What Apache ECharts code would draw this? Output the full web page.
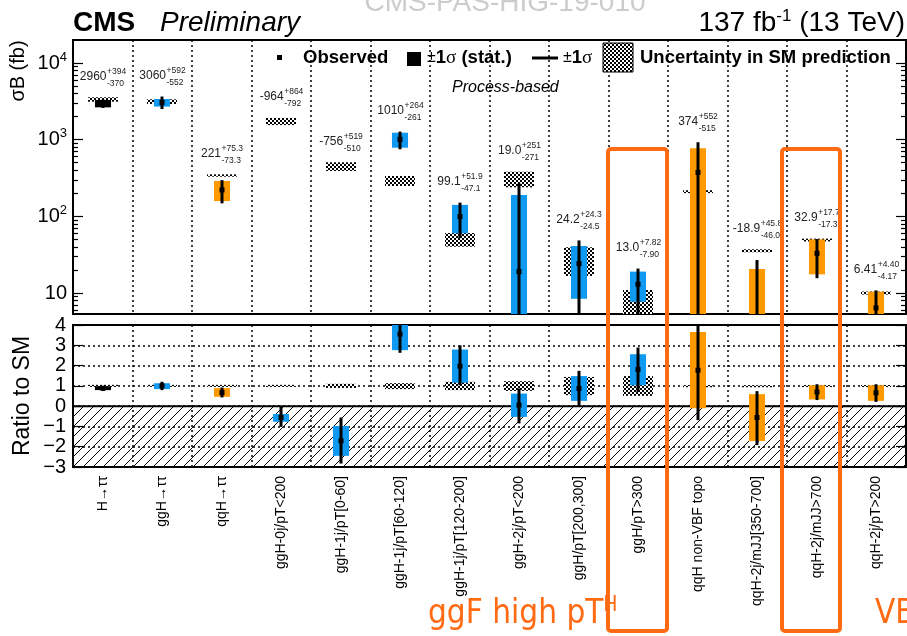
<!DOCTYPE html>
<html>
<head>
<meta charset="utf-8">
<script src="https://cdn.jsdelivr.net/npm/echarts@6/dist/echarts.min.js"></script>
<style>
  html, body { margin: 0; padding: 0; background: #fff; }
  #chart { width: 907px; height: 636px; }
</style>
</head>
<body>
<div id="chart"></div>
<script>
// categories (bins of the process-based fit)
const categories = ['H→ττ', 'ggH→ττ', 'qqH→ττ', 'ggH-0j/pT<200', 'ggH-1j/pT[0-60]', 'ggH-1j/pT[60-120]',
  'ggH-1j/pT[120-200]', 'ggH-2j/pT<200', 'ggH/pT[200,300]', 'ggH/pT>300', 'qqH non-VBF topo',
  'qqH-2j/mJJ[350-700]', 'qqH-2j/mJJ>700', 'qqH-2j/pT>200'];
const procType = ['all', 'ggH', 'qqH', 'ggH', 'ggH', 'ggH', 'ggH', 'ggH', 'ggH', 'ggH', 'qqH', 'qqH', 'qqH', 'qqH'];

// observed sigma*B (fb) with total +/- 1 sigma, as printed
const obsText = ['2960', '3060', '221', '-964', '-756', '1010', '99.1', '19.0', '24.2', '13.0', '374', '-18.9', '32.9', '6.41'];
const upText = ['394', '592', '75.3', '864', '519', '264', '51.9', '251', '24.3', '7.82', '552', '45.8', '17.7', '4.40'];
const downText = ['370', '552', '73.3', '792', '510', '261', '47.1', '271', '24.5', '7.90', '515', '46.0', '17.3', '4.17'];

// stat-only band (fb)
const statLow = [2640, 2700, 158, -1320, -1090, 785, 60, -160, 8.4, 7.7, -23, -61, 17.5, 2.6];
const statHigh = [3290, 3390, 289, -670, -435, 1233, 141, 190, 41, 19, 771, 20.5, 50, 10.4];

// SM prediction band (fb)
const smLow = [3130, 2920, 329, 1550, 390, 249, 40.2, 239, 16.7, 3.7, 201, 34, 47, 9.55];
const smHigh = [3570, 3360, 353, 1920, 507, 336, 60.6, 382, 39.5, 10.9, 219, 37.2, 51.2, 10.45];

// ratio to SM panel
const ratioObs = [0.88, 1.0, 0.67, -0.56, -1.71, 3.55, 1.97, 0.05, 0.87, 1.81, 1.77, -0.56, 0.70, 0.66];
const ratioStatLow = [0.79, 0.84, 0.46, -0.77, -2.45, 2.76, 1.15, -0.53, 0.26, 1.03, -0.11, -1.72, 0.33, 0.26];
const ratioStatHigh = [0.98, 1.13, 0.89, -0.39, -0.98, 4.3, 2.79, 0.62, 1.48, 2.56, 3.66, 0.59, 1.03, 1.03];
const ratioTotLow = [0.75, 0.79, 0.43, -1.02, -2.83, 2.63, 1.03, -0.85, 0.0, 0.70, -0.69, -1.92, 0.30, 0.21];
const ratioTotHigh = [1.0, 1.2, 0.92, -0.04, -0.56, 4.3, 3.0, 0.87, 1.74, 2.89, 4.3, 0.74, 1.08, 1.08];
const ratioSmLow = [0.95, 0.95, 0.95, 0.95, 0.9, 0.84, 0.79, 0.75, 0.54, 0.51, 0.97, 0.97, 0.96, 0.96];
const ratioSmHigh = [1.05, 1.05, 1.05, 1.05, 1.1, 1.13, 1.2, 1.23, 1.44, 1.48, 1.03, 1.03, 1.04, 1.04];

// axis ticks
const majorDecades = [1, 2, 3, 4];
const minorMultipliers = [2, 3, 4, 5, 6, 7, 8, 9];

const obs = obsText.map(Number);
const errUp = upText.map(Number);
const errDown = downText.map(Number);

const FONT = '"Liberation Sans", Arial, Helvetica, sans-serif';
const NARROW = '"Liberation Sans Narrow", "DejaVu Sans Condensed", sans-serif';
const procColor = { all: '#000000', ggH: '#0f99f0', qqH: '#ff9900' };
const annotColor = '#ff6a13';
const LOG_MIN = 0.726, LOG_MAX = 4.3;

function lg(v) { return Math.log10(Math.max(v, 1)); }

const minorLog = [];
[0, 1, 2, 3, 4].forEach(d => minorMultipliers.forEach(m => {
  const v = d + Math.log10(m);
  if (v > LOG_MIN && v < LOG_MAX) minorLog.push(v);
}));

// fill patterns
function checkerPattern() {
  const c = document.createElement('canvas');
  c.width = 4; c.height = 4;
  const ctx = c.getContext('2d');
  ctx.fillStyle = '#fff'; ctx.fillRect(0, 0, 4, 4);
  ctx.fillStyle = '#000';
  ctx.fillRect(0, 0, 2, 2); ctx.fillRect(2, 2, 2, 2);
  return { image: c, repeat: 'repeat' };
}
function diagPattern() {
  const c = document.createElement('canvas');
  c.width = 10; c.height = 10;
  const ctx = c.getContext('2d');
  ctx.strokeStyle = '#000'; ctx.lineWidth = 1;
  ctx.beginPath();
  ctx.moveTo(0, 10); ctx.lineTo(10, 0);
  ctx.moveTo(-5, 5); ctx.lineTo(5, -5);
  ctx.moveTo(5, 15); ctx.lineTo(15, 5);
  ctx.stroke();
  return { image: c, repeat: 'repeat' };
}
const smFill = checkerPattern();
const negFill = diagPattern();

const mctx = document.createElement('canvas').getContext('2d');
function textW(t, font) { mctx.font = font; return mctx.measureText(t).width; }
const MAIN_FONT = '12px ' + FONT;
const SUP_FONT = '8.5px ' + FONT;

const chart = echarts.init(document.getElementById('chart'));

function renderTop(params, api) {
  const i = api.value(0);
  const band = api.size([1, 0])[0];
  const cx = Math.round(api.coord([i, 0])[0]);
  const yv = v => api.coord([i, lg(v)])[1];
  const color = procColor[procType[i]];
  const s1 = yv(smHigh[i]), s0 = yv(smLow[i]);
  const b1 = yv(statHigh[i]), b0 = yv(statLow[i]);
  const children = [
    { type: 'rect', shape: { x: Math.round(cx - band * 0.25), y: s1, width: Math.round(band * 0.5), height: Math.max(s0 - s1, 2) }, style: { fill: smFill } },
    { type: 'rect', shape: { x: cx - band * 0.135, y: b1, width: band * 0.27, height: b0 - b1 }, style: { fill: color } },
    { type: 'line', shape: { x1: cx, y1: yv(obs[i] + errUp[i]), x2: cx, y2: yv(obs[i] - errDown[i]) }, style: { stroke: '#000', lineWidth: 3 } }
  ];
  if (obs[i] > 0) {
    const py = yv(obs[i]);
    children.push({ type: 'rect', shape: { x: cx - 2.5, y: py - 2.5, width: 5, height: 5 }, style: { fill: '#000' } });
  }
  return { type: 'group', children };
}

function renderLabel(params, api) {
  const i = api.value(0);
  const top = Math.max(obs[i] + errUp[i], smHigh[i]);
  const pt = api.coord([i, lg(top)]);
  const y = pt[1] - 21;
  const up = '+' + upText[i], dn = '-' + downText[i];
  const wMain = textW(obsText[i], MAIN_FONT);
  const wSup = Math.max(textW(up, SUP_FONT), textW(dn, SUP_FONT));
  const x0 = pt[0] - (wMain + wSup) / 2;
  const base = { fill: '#222', verticalAlign: 'middle', textVerticalAlign: 'middle', align: 'left', textAlign: 'left' };
  return {
    type: 'group', children: [
      { type: 'text', style: Object.assign({ text: obsText[i], x: x0, y: y, font: MAIN_FONT }, base) },
      { type: 'text', style: Object.assign({ text: up, x: x0 + wMain + 0.5, y: y - 5, font: SUP_FONT }, base) },
      { type: 'text', style: Object.assign({ text: dn, x: x0 + wMain + 0.5, y: y + 7, font: SUP_FONT }, base) }
    ]
  };
}

function renderRatio(params, api) {
  const i = api.value(0);
  const band = api.size([1, 0])[0];
  const cx = Math.round(api.coord([i, 0])[0]);
  const yv = v => api.coord([i, v])[1];
  const color = procColor[procType[i]];
  const s1 = yv(ratioSmHigh[i]), s0 = yv(ratioSmLow[i]);
  const b1 = yv(ratioStatHigh[i]), b0 = yv(ratioStatLow[i]);
  const py = yv(ratioObs[i]);
  return {
    type: 'group', children: [
      { type: 'rect', shape: { x: Math.round(cx - band * 0.25), y: s1, width: Math.round(band * 0.5), height: Math.max(s0 - s1, 2) }, style: { fill: smFill } },
      { type: 'rect', shape: { x: cx - band * 0.135, y: b1, width: band * 0.27, height: b0 - b1 }, style: { fill: color } },
      { type: 'line', shape: { x1: cx, y1: yv(ratioTotHigh[i]), x2: cx, y2: yv(ratioTotLow[i]) }, style: { stroke: '#000', lineWidth: 3 } },
      { type: 'rect', shape: { x: cx - 2.5, y: py - 2.5, width: 5, height: 5 }, style: { fill: '#000' } }
    ]
  };
}

function renderNegative(params, api) {
  const cs = params.coordSys;
  const y0 = api.coord([0, 0])[1];
  return {
    type: 'group', children: [
      { type: 'rect', shape: { x: cs.x, y: y0, width: cs.width, height: cs.y + cs.height - y0 }, style: { fill: negFill } },
      { type: 'line', shape: { x1: cs.x, y1: y0, x2: cs.x + cs.width, y2: y0 }, style: { stroke: '#000', lineWidth: 2 } }
    ]
  };
}

const dotted = { color: '#000', width: 1.5, type: [2, 3] };
const supRich = {
  b: { fontSize: 20, fontFamily: FONT, color: '#000' },
  s: { fontSize: 13, fontFamily: FONT, color: '#000', padding: [0, 0, 12, 0] }
};

function logAxis(position, ticks, len, labels) {
  return {
    gridIndex: 0, type: 'value', min: LOG_MIN, max: LOG_MAX, position: position,
    axisLine: { show: false }, splitLine: { show: false },
    axisTick: { show: true, inside: true, length: len, customValues: ticks, lineStyle: { color: '#000', width: 1.2 } },
    axisLabel: labels ? {
      customValues: ticks, margin: 6, rich: supRich,
      formatter: v => Math.round(v) === 1 ? '{b|10}' : '{b|10}{s|' + Math.round(v) + '}'
    } : { show: false }
  };
}

const txt = (x, y, text, font, extra) => ({
  type: 'text', x: x, y: y, z: 50,
  style: Object.assign({ text: text, font: font, fill: '#000', verticalAlign: 'middle', textVerticalAlign: 'middle' }, extra || {})
});
const pmRich = {
  n: { fontSize: 16, fontFamily: FONT, fill: '#000' },
  b: { fontSize: 18.5, fontWeight: 'bold', fontFamily: FONT, fill: '#000' },
  g: { fontSize: 19, fontFamily: '"Liberation Serif", serif', fill: '#000' }
};

const option = {
  animation: false,
  backgroundColor: '#fff',
  grid: [
    { left: 73, top: 40, width: 833, height: 274, show: true, borderColor: '#000', borderWidth: 2, backgroundColor: 'transparent' },
    { left: 73, top: 325, width: 833, height: 142, show: true, borderColor: '#000', borderWidth: 2, backgroundColor: 'transparent' }
  ],
  xAxis: [
    { gridIndex: 0, type: 'category', data: categories, boundaryGap: true,
      axisLine: { show: false }, axisTick: { show: false }, axisLabel: { show: false },
      splitLine: { show: true, interval: 0, lineStyle: dotted } },
    { gridIndex: 1, type: 'category', data: categories, boundaryGap: true,
      axisLine: { show: false }, axisTick: { show: false },
      axisLabel: { interval: 0, rotate: 90, fontSize: 14, fontFamily: FONT, color: '#000', margin: 9 },
      splitLine: { show: true, interval: 0, lineStyle: dotted } }
  ],
  yAxis: [
    logAxis('left', majorDecades, 10, true),
    logAxis('left', minorLog, 5, false),
    logAxis('right', majorDecades, 10, false),
    logAxis('right', minorLog, 5, false),
    { gridIndex: 1, type: 'value', min: -3, max: 4, interval: 1, position: 'left',
      axisLine: { show: false },
      axisTick: { show: true, inside: true, length: 10, lineStyle: { color: '#000', width: 1.2 } },
      axisLabel: { fontSize: 20, fontFamily: FONT, color: '#000', margin: 7, formatter: v => String(v).replace('-', '\u2212') },
      splitLine: { show: true, lineStyle: dotted } },
    { gridIndex: 1, type: 'value', min: -3, max: 4, interval: 1, position: 'right',
      axisLine: { show: false }, axisLabel: { show: false }, splitLine: { show: false },
      axisTick: { show: true, inside: true, length: 10, lineStyle: { color: '#000', width: 1.2 } } }
  ],
  series: [
    { type: 'custom', name: 'measurement', xAxisIndex: 0, yAxisIndex: 0, clip: true, z: 3,
      data: categories.map((c, i) => [i, obs[i]]), renderItem: renderTop },
    { type: 'custom', name: 'labels', xAxisIndex: 0, yAxisIndex: 0, clip: false, z: 4,
      data: categories.map((c, i) => [i, obs[i]]), renderItem: renderLabel },
    { type: 'custom', name: 'negative', xAxisIndex: 1, yAxisIndex: 4, clip: true, z: 2,
      data: [[0, 0]], renderItem: renderNegative },
    { type: 'custom', name: 'ratio', xAxisIndex: 1, yAxisIndex: 4, clip: true, z: 3,
      data: categories.map((c, i) => [i, ratioObs[i]]), renderItem: renderRatio }
  ],
  graphic: [
    txt(505, 3, 'CMS-PAS-HIG-19-010', '28px ' + FONT, { fill: '#cccccc', align: 'center', textAlign: 'center' }),
    txt(73, 23, 'CMS', 'bold 28px ' + FONT),
    txt(160, 23, 'Preliminary', 'italic 28px ' + FONT),
    { type: 'text', x: 905, y: 23, z: 50, style: {
      text: '{a|137 fb}{s|-1}{a| (13 TeV)}', align: 'right', textAlign: 'right', verticalAlign: 'middle', textVerticalAlign: 'middle',
      rich: { a: { fontSize: 28, fontFamily: FONT, fill: '#000' }, s: { fontSize: 17, fontFamily: FONT, fill: '#000', padding: [0, 0, 14, 0] } } } },
    { type: 'text', x: 18, y: 71, rotation: Math.PI / 2, z: 50,
      style: { text: 'σB (fb)', font: '20px ' + FONT, fill: '#000', align: 'center', textAlign: 'center', verticalAlign: 'middle', textVerticalAlign: 'middle' } },
    { type: 'text', x: 23, y: 396, rotation: Math.PI / 2, z: 50,
      style: { text: 'Ratio to SM', font: '23px ' + FONT, fill: '#000', align: 'center', textAlign: 'center', verticalAlign: 'middle', textVerticalAlign: 'middle' } },
    // legend
    { type: 'rect', z: 50, shape: { x: 277, y: 55, width: 5, height: 5 }, style: { fill: '#000' } },
    txt(303, 58, 'Observed', 'bold 18.5px ' + FONT),
    { type: 'rect', z: 50, shape: { x: 407, y: 52, width: 14, height: 14 }, style: { fill: '#000' } },
    { type: 'text', x: 427, y: 58, z: 50, style: {
      text: '{n|±}{b|1}{g|σ}{b| (stat.)}', verticalAlign: 'middle', textVerticalAlign: 'middle', rich: pmRich } },
    { type: 'line', z: 50, shape: { x1: 532, y1: 58, x2: 558, y2: 58 }, style: { stroke: '#000', lineWidth: 3 } },
    { type: 'text', x: 563, y: 58, z: 50, style: {
      text: '{n|±}{b|1}{g|σ}', verticalAlign: 'middle', textVerticalAlign: 'middle', rich: pmRich } },
    { type: 'rect', z: 50, shape: { x: 603, y: 43, width: 30, height: 29 }, style: { fill: smFill, stroke: '#000', lineWidth: 1 } },
    txt(640, 58, 'Uncertainty in SM prediction', 'bold 18.5px ' + FONT),
    txt(452, 88, 'Process-based', 'italic 16px ' + FONT),
    // highlighted bins
    { type: 'rect', z: 60, shape: { x: 608, y: 149, width: 59, height: 482, r: 3 }, style: { fill: 'none', stroke: annotColor, lineWidth: 4 } },
    { type: 'rect', z: 60, shape: { x: 782, y: 149, width: 58, height: 482, r: 3 }, style: { fill: 'none', stroke: annotColor, lineWidth: 4 } },
    { type: 'text', x: 428, y: 614, z: 60, style: {
      text: '{a|ggF high pT}{s|H}', fill: annotColor, verticalAlign: 'middle', textVerticalAlign: 'middle',
      rich: { a: { fontSize: 33, fontFamily: NARROW, fill: annotColor, color: annotColor },
              s: { fontSize: 21, fontFamily: NARROW, fill: annotColor, color: annotColor, padding: [0, 0, 16, 0] } } } },
    txt(875, 614, 'VBF', '33px ' + NARROW, { fill: annotColor })
  ]
};

chart.setOption(option);
</script>
</body>
</html>
